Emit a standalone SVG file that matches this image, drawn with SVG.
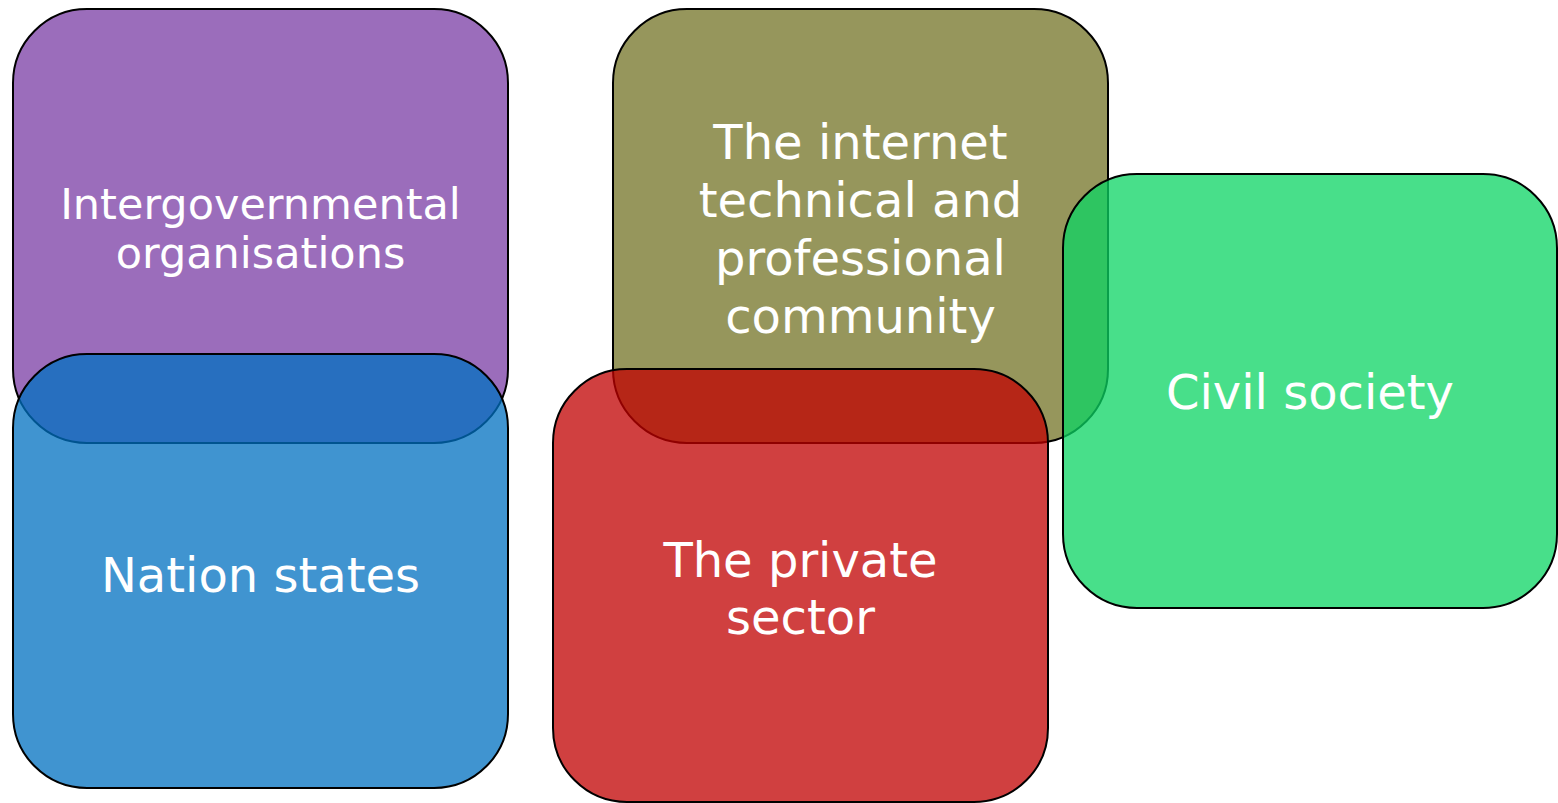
<svg xmlns="http://www.w3.org/2000/svg" width="1558" height="803" viewBox="0 0 1558 803">
<style>
.box{stroke:#000;stroke-width:2;fill-opacity:0.75}
.lbl{fill:#fff;font-family:"DejaVu Sans",Verdana,sans-serif;font-size:48px;text-anchor:middle}
.sm{font-size:43px}
</style>
<rect width="1558" height="803" fill="#fff"/>
<g id="intergovernmental">
<rect class="box" x="13" y="9" width="495" height="434" rx="74" fill="#7A3CA4"/>
<text class="lbl sm"><tspan x="260.5" y="219">Intergovernmental</tspan><tspan x="260.5" y="268">organisations</tspan></text>
</g>
<g id="nation-states">
<rect class="box" x="13" y="354" width="495" height="434" rx="74" fill="#0070C0"/>
<text class="lbl" x="260.5" y="592">Nation states</text>
</g>
<g id="internet-community">
<rect class="box" x="613" y="9" width="495" height="434" rx="74" fill="#737326"/>
<text class="lbl"><tspan x="860.5" y="159">The internet</tspan><tspan x="860.5" y="217">technical and</tspan><tspan x="860.5" y="275">professional</tspan><tspan x="860.5" y="333">community</tspan></text>
</g>
<g id="private-sector">
<rect class="box" x="553" y="369" width="495" height="433" rx="74" fill="#C00000"/>
<text class="lbl"><tspan x="800.5" y="577">The private</tspan><tspan x="800.5" y="634">sector</tspan></text>
</g>
<g id="civil-society">
<rect class="box" x="1063" y="174" width="494" height="434" rx="74" fill="#0BD463"/>
<text class="lbl" x="1310" y="409">Civil society</text>
</g>
<g id="connectors"></g>
</svg>
